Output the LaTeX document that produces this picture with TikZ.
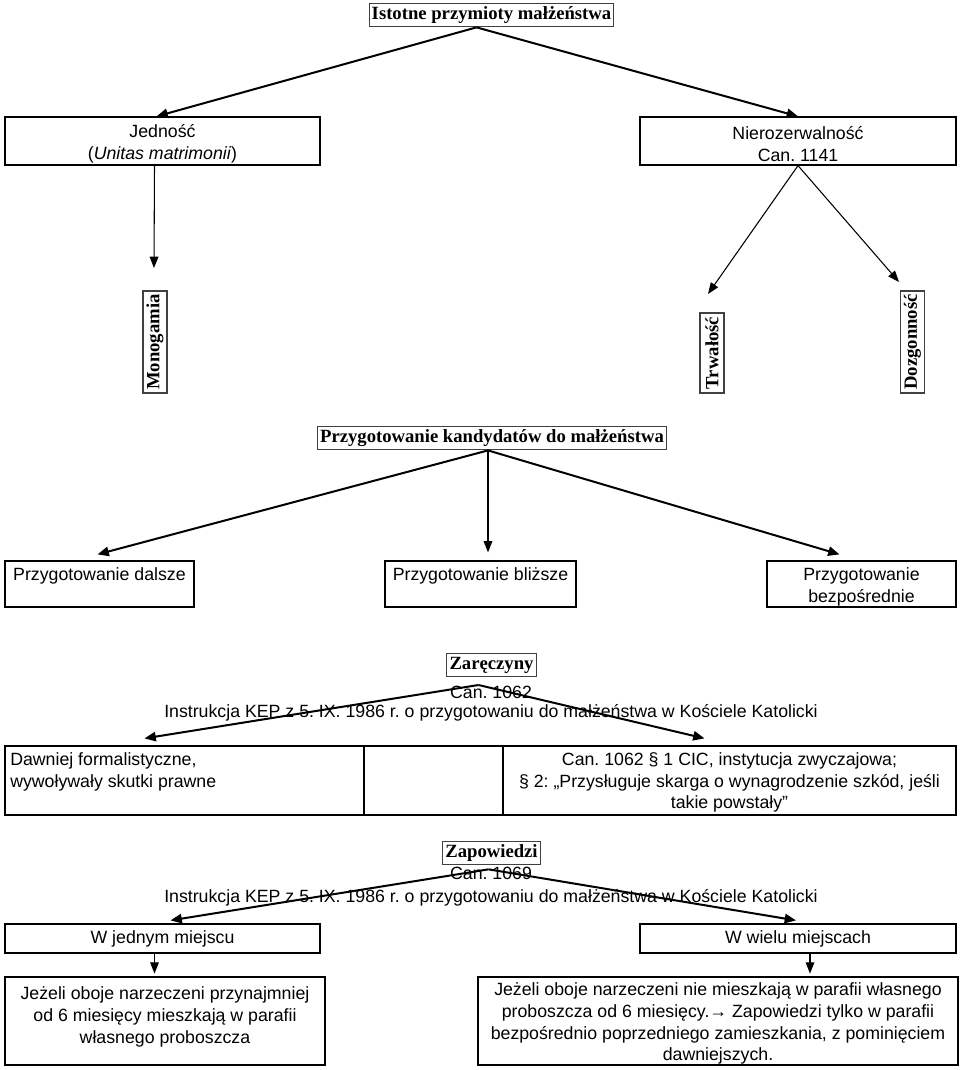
\documentclass[tikz,border=0pt]{standalone}
\usepackage{fontspec}
\setmainfont{Liberation Sans}
\newfontfamily\serifb{Liberation Serif}
\usetikzlibrary{arrows.meta,calc}
\begin{document}
\frenchspacing
\begin{tikzpicture}[x=0.75pt,y=-0.75pt,
  every node/.style={font=\fontsize{13.3}{16.4}\selectfont, inner sep=0pt},
  box/.style={draw, line width=0.9pt},
  head/.style={draw=black!75, line width=0.8pt, font=\serifb\bfseries\fontsize{14}{16}\selectfont, inner xsep=2pt, inner ysep=2.5pt},
  vhead/.style={draw=black!75, line width=0.8pt, rotate=90, font=\serifb\bfseries\fontsize{14}{16}\selectfont, minimum height=18pt},
  thickarr/.style={line width=1.5pt, -{Triangle[length=8.5pt,width=7pt]}},
  thinarr/.style={line width=0.8pt, -{Triangle[length=8.5pt,width=6.5pt]}},
]
\useasboundingbox (0,0) rectangle (960,1070);

% top level
\node[head] (top) at (491.5,15) {Istotne przymioty małżeństwa};
\node[box, minimum width={315*0.75pt}, minimum height={48*0.75pt}] (jed) at (162.5,141) {};
\node[align=center] (jedt) at (162.5,144) {Jedność\\(\textit{Unitas matrimonii})};
\node[box, minimum width={316*0.75pt}, minimum height={48*0.75pt}] (nie) at (798,141) {};
\node[align=center] (niet) at (798,144) {Nierozerwalność\\Can. 1141};

\node[vhead, minimum width={102*0.75pt}] (mono) at (155,342) {Monogamia};
\node[vhead, minimum width={80*0.75pt}] (trw) at (712,353) {Trwałość};
\node[vhead, minimum width={102*0.75pt}] (doz) at (912.5,342) {Dozgonność};

\coordinate (monotip) at (154,268);
\coordinate (trwtip) at (708,294);
\coordinate (doztip) at (899,282);

\draw[thickarr] ($(top.south)+(-15,0)$) -- ($(jed.north)+(-6,0)$);
\draw[thickarr] ($(top.south)+(-15,0)$) -- (nie.north);
\draw[thinarr] ($(jed.south)+(-8,0)$) -- (monotip);
\draw[thinarr] (nie.south) -- (trwtip);
\draw[thinarr] (nie.south) -- (doztip);

% przygotowanie
\node[head] (kand) at (492,438) {Przygotowanie kandydatów do małżeństwa};
\node[box, minimum width={189*0.75pt}, minimum height={46*0.75pt}] (dal) at (99.5,584) {};
\node (dalt) at (99.5,576) {Przygotowanie dalsze};
\node[box, minimum width={191*0.75pt}, minimum height={46*0.75pt}] (bliz) at (480.5,584) {};
\node (blizt) at (480.5,576) {Przygotowanie bliższe};
\node[box, minimum width={189*0.75pt}, minimum height={46*0.75pt}] (bezp) at (861.5,584) {};
\node[align=center] (bezpt) at (861.5,587) {Przygotowanie\\bezpośrednie};

\draw[thickarr] ($(kand.south)+(-4,0)$) -- ($(dal.north)+(-2,-6)$);
\draw[thinarr] ($(kand.south)+(-4,0)$) -- ($(kand.south |- bliz.north)+(-4,-8)$);
\draw[thickarr] ($(kand.south)+(-4,0)$) -- ($(bezp.north)+(-22,-6)$);

% zareczyny
\node[head] (zar) at (491.5,665) {Zaręczyny};
\node (can1) at (491,692) {Can. 1062};
\node (ins1) at (491,713) {Instrukcja KEP z 5. IX. 1986 r. o przygotowaniu do małżeństwa w Kościele Katolicki};
\node[box, minimum width={359*0.75pt}, minimum height={69*0.75pt}] (c1) at (184.5,780.5) {};
\node[box, minimum width={139*0.75pt}, minimum height={69*0.75pt}] (c2) at (433.5,780.5) {};
\node[box, minimum width={453*0.75pt}, minimum height={69*0.75pt}] (c3) at (729.5,780.5) {};
\node[align=center] (c3t) at (729.5,782.5) {Can. 1062 § 1 CIC, instytucja zwyczajowa;\\§ 2: „Przysługuje skarga o wynagrodzenie szkód, jeśli\\takie powstały”};
\node[anchor=west, align=left] (c1t) at (10,772) {Dawniej formalistyczne,\\wywoływały skutki prawne};

\draw[thickarr] ($(zar.south)+(-13,8)$) -- ($(c1.north)+(-40,-7)$);
\draw[thickarr] ($(zar.south)+(-13,8)$) -- ($(c3.north)+(-25,-7)$);

% zapowiedzi
\node[head] (zap) at (491.5,853) {Zapowiedzi};
\node (can2) at (491,873) {Can. 1069};
\node (ins2) at (491,898) {Instrukcja KEP z 5. IX. 1986 r. o przygotowaniu do małżeństwa w Kościele Katolicki};
\node[box, minimum width={315*0.75pt}, minimum height={29*0.75pt}] (wj) at (162.5,938.5) {W jednym miejscu};
\node[box, minimum width={316*0.75pt}, minimum height={29*0.75pt}] (ww) at (798,938.5) {W wielu miejscach};

\draw[thickarr] ($(zap.south)+(-3,4)$) -- ($(wj.north)+(8,-3)$);
\draw[thickarr] ($(zap.south)+(-3,4)$) -- ($(ww.north)+(-2,-3)$);

\node[box, minimum width={320*0.75pt}, minimum height={88*0.75pt}] (bl) at (165,1021) {};
\node[align=center] (blt) at (165,1017) {Jeżeli oboje narzeczeni przynajmniej\\od 6 miesięcy mieszkają w parafii\\własnego proboszcza};
\node[box, minimum width={480*0.75pt}, minimum height={88*0.75pt}] (br) at (718,1021) {};
\node[align=center] (brt) at (718,1023.5) {Jeżeli oboje narzeczeni nie mieszkają w parafii własnego\\proboszcza od 6 miesięcy.→ Zapowiedzi tylko w parafii\\bezpośrednio poprzedniego zamieszkania, z pominięciem\\dawniejszych.};

\draw[thinarr] ($(wj.south)+(-8,0)$) -- ++(0,20);
\draw[thinarr] ($(ww.south)+(12,0)$) -- ++(0,20);
\end{tikzpicture}
\end{document}
